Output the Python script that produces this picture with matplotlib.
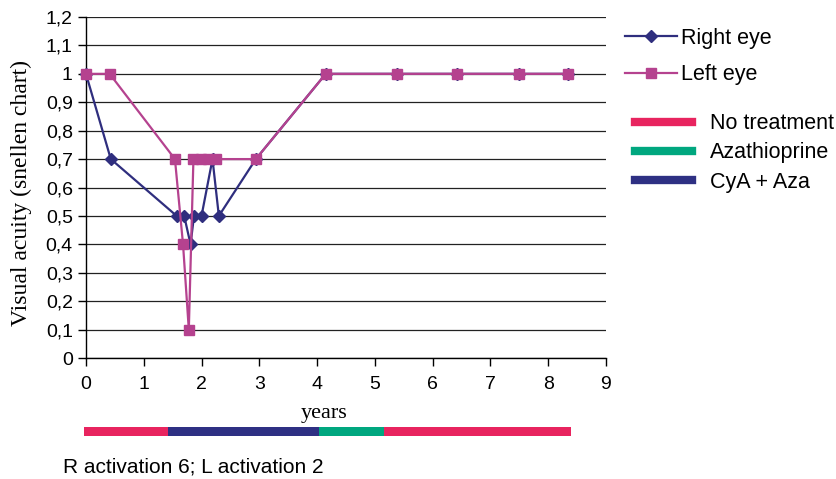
import matplotlib
matplotlib.use("Agg")
import matplotlib.pyplot as plt
from matplotlib.lines import Line2D
import numpy as np

# visual acuity over time
right_years = [0, 0.43, 1.57, 1.70, 1.81, 1.87, 2.0, 2.19, 2.30, 2.94, 4.15, 5.38, 6.42, 7.49, 8.34]
right_va = [1.0, 0.7, 0.5, 0.5, 0.4, 0.5, 0.5, 0.7, 0.5, 0.7, 1.0, 1.0, 1.0, 1.0, 1.0]

left_years = [0, 0.41, 1.54, 1.68, 1.78, 1.86, 1.99, 2.12, 2.25, 2.94, 4.15, 5.38, 6.42, 7.49, 8.34]
left_va = [1.0, 1.0, 0.7, 0.4, 0.1, 0.7, 0.7, 0.7, 0.7, 0.7, 1.0, 1.0, 1.0, 1.0, 1.0]

# treatment periods (years)
treat_start = [-0.035, 1.42, 4.03, 5.16]
treat_end = [1.42, 4.03, 5.16, 8.40]
treat_kind = ["No treatment", "CyA + Aza", "Azathioprine", "No treatment"]

treat_colors = {"No treatment": "#e8245f", "Azathioprine": "#00a77f", "CyA + Aza": "#2e3083"}
legend_order = ["No treatment", "Azathioprine", "CyA + Aza"]

yticks = [0, 0.1, 0.2, 0.3, 0.4, 0.5, 0.6, 0.7, 0.8, 0.9, 1.0, 1.1, 1.2]
ytick_labels = ["0", "0,1", "0,2", "0,3", "0,4", "0,5", "0,6", "0,7", "0,8", "0,9", "1", "1,1", "1,2"]
xticks = list(range(0, 10))

c_right = "#2f2e7e"
c_left = "#b5428f"

plt.rcParams['font.family'] = ['Liberation Sans', 'DejaVu Sans']

fig = plt.figure(figsize=(8.37, 4.79), dpi=100)
ax = fig.add_axes([0.1027, 0.2526, 0.6213, 0.7119])

ax.plot(right_years, right_va, color=c_right, linewidth=1.6, marker="D", markersize=6.5,
        label="Right eye", zorder=3, clip_on=False)
ax.plot(left_years, left_va, color=c_left, linewidth=1.6, marker="s", markersize=7.5,
        label="Left eye", zorder=4, clip_on=False)

ax.set_xlim(0, 9)
ax.set_ylim(0, 1.2)
ax.set_yticks(yticks)
ax.set_yticklabels(ytick_labels)
ax.set_xticks(xticks)
ax.tick_params(axis="both", labelsize=14, length=6, width=1, direction="out", colors="black")
ax.tick_params(axis="y", pad=3.5)
ax.tick_params(axis="x", pad=7)
ax.grid(axis="y", color="#222222", linewidth=0.9)
ax.set_axisbelow(True)
for s in ["top", "right"]:
    ax.spines[s].set_visible(False)
ax.spines["left"].set_linewidth(1)
ax.spines["bottom"].set_linewidth(1)

ax.set_ylabel("Visual acuity (snellen chart)", family=["Liberation Serif"], fontsize=17)
ax.yaxis.set_label_coords(-0.104, 0.484)
ax.set_xlabel("years", family=["Liberation Serif"], fontsize=16)
ax.xaxis.set_label_coords(0.458, -0.135)

# legend for the eyes
h1 = [Line2D([], [], color=c_right, linewidth=1.6, marker="D", markersize=6.5),
      Line2D([], [], color=c_left, linewidth=1.6, marker="s", markersize=7.5)]
leg1 = fig.legend(h1, ["Right eye", "Left eye"], loc="upper left",
                  bbox_to_anchor=(0.7467, 0.942), frameon=False, fontsize=15.5,
                  handlelength=2.42, handletextpad=0.19, labelspacing=0.72,
                  borderaxespad=0, borderpad=0)

# legend for the treatments
h2 = [Line2D([], [], color=treat_colors[k], linewidth=6) for k in legend_order]
leg2 = fig.legend(h2, legend_order, loc="upper left",
                  bbox_to_anchor=(0.7587, 0.764), frameon=False, fontsize=15.5,
                  handlelength=2.65, handletextpad=0.84, labelspacing=0.39,
                  borderaxespad=0, borderpad=0)

# treatment bar under the axis
axb = fig.add_axes([0.1027, 0.0898, 0.6213, 0.0188])
for s, e, k in zip(treat_start, treat_end, treat_kind):
    axb.barh(0, e - s, left=s, height=1, color=treat_colors[k], clip_on=False)
axb.set_xlim(0, 9)
axb.set_ylim(-0.5, 0.5)
axb.axis("off")

fig.text(63 / 837, 1 - 467 / 479, "R activation 6; L activation 2", fontsize=15,
         ha="left", va="center")

fig.savefig("out.png", dpi=100)
